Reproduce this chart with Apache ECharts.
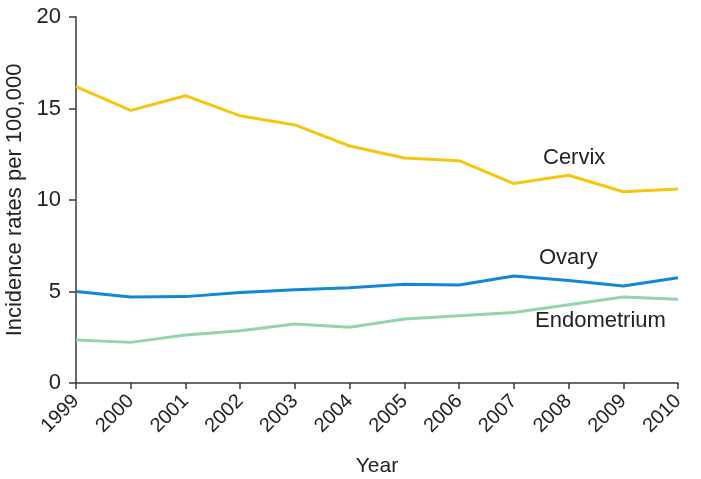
<!DOCTYPE html>
<html><head><meta charset="utf-8">
<script src="https://cdn.jsdelivr.net/npm/echarts@6/dist/echarts.min.js"></script>
<style>html,body{margin:0;padding:0;background:#fff}#c{width:701px;height:479px}</style>
</head><body><div id="c"></div>
<script>
const years = ['1999','2000','2001','2002','2003','2004','2005','2006','2007','2008','2009','2010'];
const cervix = [16.2, 14.9, 15.7, 14.6, 14.1, 12.95, 12.3, 12.15, 10.9, 11.35, 10.45, 10.6];
const ovary = [5.0, 4.7, 4.72, 4.95, 5.1, 5.2, 5.4, 5.35, 5.85, 5.6, 5.3, 5.75];
const endometrium = [2.35, 2.22, 2.62, 2.85, 3.22, 3.05, 3.5, 3.68, 3.85, 4.28, 4.7, 4.58];
const yTicks = [0, 5, 10, 15, 20];

const chart = echarts.init(document.getElementById('c'));
const axisCol = '#3a3a3a';
const font = 'Liberation Sans, Arial, sans-serif';
chart.setOption({
  animation: false,
  grid: {left: 76, right: 23, top: 17, bottom: 96, containLabel: false, outerBoundsMode: 'none'},
  xAxis: {
    type: 'category', data: years, boundaryGap: false,
    name: 'Year', nameLocation: 'middle', nameGap: 73,
    nameTextStyle: {fontSize: 21, color: '#222', fontFamily: font},
    axisLine: {lineStyle: {color: axisCol, width: 1.5}},
    axisTick: {show: true, inside: false, length: 6, alignWithLabel: true, lineStyle: {color: axisCol, width: 1.5}},
    axisLabel: {rotate: 45, fontSize: 20, color: '#222', fontFamily: font, margin: 15, interval: 0}
  },
  yAxis: {
    type: 'value', min: yTicks[0], max: yTicks[yTicks.length-1], interval: 5,
    name: 'Incidence rates per 100,000', nameLocation: 'middle', nameGap: 46,
    nameTextStyle: {fontSize: 22, color: '#222', fontFamily: font},
    axisLine: {show: true, lineStyle: {color: axisCol, width: 1.5}},
    axisTick: {show: true, length: 7, lineStyle: {color: axisCol, width: 1.5}},
    splitLine: {show: false},
    axisLabel: {fontSize: 22, color: '#222', fontFamily: font, margin: 15}
  },
  series: [
    {name: 'Cervix', type: 'line', data: cervix, symbol: 'none', lineStyle: {color: '#F7C50F', width: 3}},
    {name: 'Ovary', type: 'line', data: ovary, symbol: 'none', lineStyle: {color: '#1388D2', width: 3}},
    {name: 'Endometrium', type: 'line', data: endometrium, symbol: 'none', lineStyle: {color: '#93D3AE', width: 3}}
  ],
  graphic: [
    {type: 'text', left: 543, top: 147, style: {text: 'Cervix', fontSize: 22, fill: '#222', fontFamily: font}},
    {type: 'text', left: 539, top: 247, style: {text: 'Ovary', fontSize: 22, fill: '#222', fontFamily: font}},
    {type: 'text', left: 535, top: 310, style: {text: 'Endometrium', fontSize: 22, fill: '#222', fontFamily: font}}
  ]
});
</script></body></html>
